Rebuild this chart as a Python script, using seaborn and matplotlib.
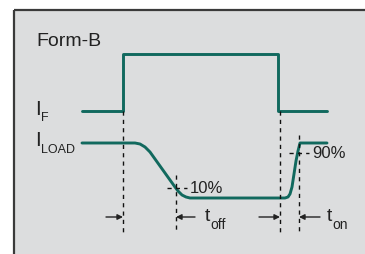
import matplotlib
matplotlib.use("Agg")
import matplotlib.pyplot as plt
from matplotlib.patches import Rectangle
import pandas as pd
import seaborn as sns

# waveform values (x = time, y = level, drawn top-down)
if_time = [82, 123, 123, 278, 278, 327]
if_level = [112, 112, 55, 55, 112, 112]

load_time = [82, 135, 140, 145, 150, 155, 160, 165, 170, 175, 178, 182, 186, 190,
             285, 288, 290, 292, 294, 296, 298, 300, 327]
load_level = [144, 144, 145, 148, 153, 160, 167, 174, 181, 188, 192, 196, 198, 199,
              199, 198, 195, 188, 175, 162, 152, 144, 144]

markers_x = [123, 176, 280, 299]
markers_top = [112, 176, 112, 136]
pct_labels = ["10%", "90%"]
pct_x = [176, 298]
pct_y = [189, 154]

sns.set_style("white")
plt.rcParams["font.family"] = ["Liberation Sans", "DejaVu Sans"]

teal = "#11695e"
ink = "#222222"
fig = plt.figure(figsize=(3.65, 2.55), dpi=100)
ax = fig.add_axes([0, 0, 1, 1])

# panel background with top/left border
ax.add_patch(Rectangle((14, 11), 360, 260, facecolor="#dcddde", edgecolor="none", zorder=0))
ax.plot([14, 365], [11, 11], color="#3a3a3a", lw=1.6, solid_capstyle="butt")
ax.plot([14, 14], [11, 255], color="#3a3a3a", lw=1.6, solid_capstyle="butt")

df_if = pd.DataFrame({"t": if_time, "v": if_level})
df_load = pd.DataFrame({"t": load_time, "v": load_level})
sns.lineplot(data=df_if, x="t", y="v", sort=False, estimator=None, color=teal, lw=2.1, ax=ax)
sns.lineplot(data=df_load, x="t", y="v", sort=False, estimator=None, color=teal, lw=2.1, ax=ax)
ax.set_xlim(0, 365)
ax.set_ylim(255, 0)
ax.axis("off")

# dashed timing markers
for x, top in zip(markers_x, markers_top):
    ax.plot([x, x], [top, 233], color="#111111", lw=1.0, ls=(0, (3, 3)))

# crossing ticks and percent labels
for lab, x, y in zip(pct_labels, pct_x, pct_y):
    ax.plot([x - 9, x + 11], [y, y], color="#111111", lw=1.0, ls=(0, (3, 3)))
    ax.text(x + 14, y, lab, fontsize=12, va="center", ha="left", color=ink)

# arrows
arr = dict(arrowstyle="-|>", color=ink, lw=1.0, mutation_scale=8, shrinkA=0, shrinkB=0)
ax.annotate("", xy=(123, 218), xytext=(106, 218), arrowprops=arr)
ax.annotate("", xy=(176, 218), xytext=(195, 218), arrowprops=arr)
ax.annotate("", xy=(280, 218), xytext=(259, 218), arrowprops=arr)
ax.annotate("", xy=(299, 218), xytext=(320, 218), arrowprops=arr)

# labels with hand-placed subscripts
ax.text(205, 221, "t", fontsize=14, va="baseline", ha="left", color=ink)
ax.text(210, 229, "off", fontsize=10, va="baseline", ha="left", color=ink)
ax.text(327, 221, "t", fontsize=14, va="baseline", ha="left", color=ink)
ax.text(332, 229, "on", fontsize=10, va="baseline", ha="left", color=ink)

ax.text(36, 42, "Form-B", fontsize=14, va="center", ha="left", color=ink)
ax.text(35, 115, "I", fontsize=15, va="baseline", ha="left", color=ink)
ax.text(41, 121, "F", fontsize=9, va="baseline", ha="left", color=ink)
ax.text(35, 146, "I", fontsize=15, va="baseline", ha="left", color=ink)
ax.text(41, 153, "LOAD", fontsize=9, va="baseline", ha="left", color=ink)

fig.savefig("out.png", dpi=100)
